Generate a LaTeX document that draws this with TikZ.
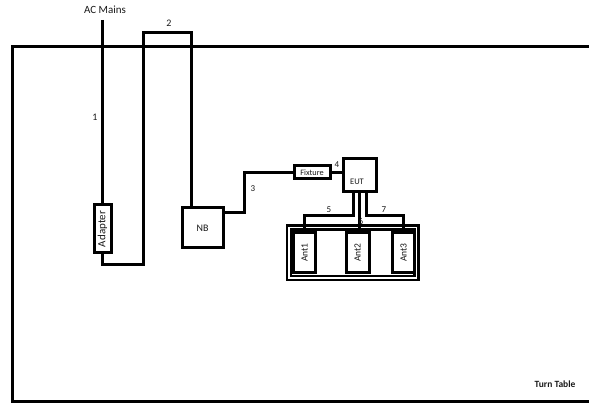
\documentclass[tikz,border=0pt]{standalone}
\usepackage{fontspec}
\setmainfont{Carlito}
\begin{document}
\begin{tikzpicture}[x=1pt,y=-1pt,
  wire/.style={line width=3pt, line join=miter},
  dev/.style={draw, line width=3pt, inner sep=0pt, fill=white},
  lbl/.style={text=black!90, inner sep=0pt, font=\fontsize{9}{10}\selectfont},
]
\useasboundingbox (0,0) rectangle (589,403);
% turn table
\coordinate (tttr) at (600,47);
\coordinate (tttl) at (12,47);
\coordinate (ttbl) at (12,401);
\coordinate (ttbr) at (600,401);
\draw[wire] (tttr) -- (tttl) -- (ttbl) -- (ttbr);
\node[lbl, font=\bfseries\fontsize{9.5}{11}\selectfont] (tt) at (555,384) {Turn Table};

% AC mains and adapter
\coordinate (mains) at (102.5,20);
\node[lbl, font=\fontsize{11}{13}\selectfont] (acm) at (105,10) {AC Mains};
\node[dev, minimum width=17pt, minimum height=48pt] (adapter) at (102.5,229) {};
\node[lbl, rotate=90, font=\fontsize{11}{12}\selectfont] (adtext) at (adapter.center) {Adapter};
\draw[wire] (mains) -- (adapter.north);
\node[lbl, font=\fontsize{10}{11}\selectfont] (l1) at (95,117) {1};

% NB
\node[dev, minimum width=41pt, minimum height=40pt, font=\fontsize{10}{11}\selectfont, text=black!90] (nb) at (202.5,228) {NB};
\coordinate (c2a) at (102.5,265);
\coordinate (c2b) at (143,265);
\coordinate (c2c) at (143,33);
\coordinate (c2d) at (191,33);
\draw[wire] (adapter.south) -- (c2a) -- (c2b) -- (c2c) -- (c2d) -- (c2d |- nb.north);
\node[lbl, font=\fontsize{10}{11}\selectfont] (l2) at (169,23) {2};

% Fixture and EUT
\node[dev, minimum width=36pt, minimum height=13pt, font=\fontsize{8.3}{9}\selectfont, text=black!90] (fix) at (312,172.5) {Fixture};
\node[dev, minimum width=33pt, minimum height=33pt] (eut) at (359.5,175.5) {};
\node[lbl, font=\fontsize{8.5}{10}\selectfont] (euttext) at (357,182) {EUT};
\coordinate (c3a) at (244,213);
\coordinate (c3b) at (244,173);
\draw[wire] (nb.east |- c3a) -- (c3a) -- (c3b) -- (fix.west |- c3b);
\node[lbl] (l3) at (253,189) {3};
\draw[wire] (fix.east) -- (eut.west |- fix.east);
\node[lbl] (l4) at (337,165) {4};

% antenna enclosure
\coordinate (encA) at (289,227.5);
\coordinate (encB) at (416.5,278);
\draw[line width=2.6pt, double, double distance=1.6pt] (encA) rectangle (encB);

\node[dev, minimum width=22pt, minimum height=40pt] (ant1) at (304.5,252.5) {};
\node[dev, minimum width=23pt, minimum height=40pt] (ant2) at (357.5,252.5) {};
\node[dev, minimum width=22pt, minimum height=40pt] (ant3) at (403.5,252.5) {};
\node[lbl, rotate=90, font=\fontsize{9.5}{10}\selectfont] (a1t) at (ant1.center) {Ant1};
\node[lbl, rotate=90, font=\fontsize{9.5}{10}\selectfont] (a2t) at (ant2.center) {Ant2};
\node[lbl, rotate=90, font=\fontsize{9.5}{10}\selectfont] (a3t) at (ant3.center) {Ant3};

\coordinate (e5) at (353,192);
\coordinate (e6) at (359,192);
\coordinate (e7) at (366,192);
\coordinate (k5) at (353,216);
\coordinate (k7) at (366,216);
\draw[wire] (e5) -- (k5) -- (k5 -| ant1.north) -- (ant1.north);
\draw[wire] (e6) -- (e6 |- ant2.north);
\draw[wire] (e7) -- (k7) -- (k7 -| ant3.north) -- (ant3.north);
\node[lbl] (l5) at (329,210) {5};
\node[lbl] (l6) at (361,221) {6};
\node[lbl] (l7) at (384,210) {7};
\end{tikzpicture}
\end{document}
